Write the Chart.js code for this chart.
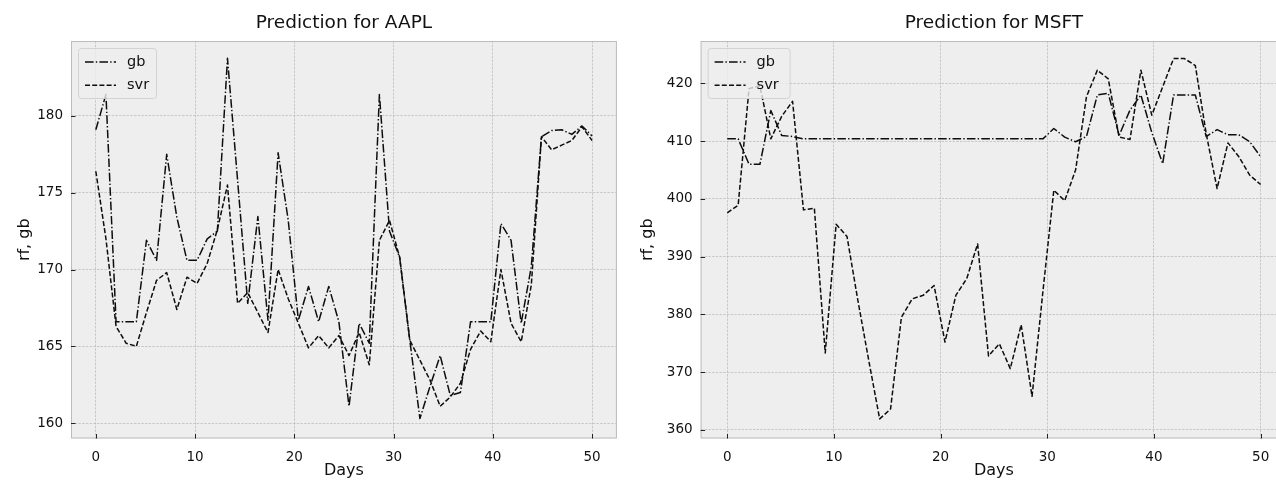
<!DOCTYPE html>
<html><head><meta charset="utf-8">
<script src="https://cdn.jsdelivr.net/npm/chart.js@4.4.1/dist/chart.umd.min.js"></script>
<style>
html,body{margin:0;padding:0;background:#fff;overflow:hidden;width:1276px;height:480px;position:relative;}
#cL{position:absolute;left:0;top:0;}
#cR{position:absolute;left:638px;top:0;}
</style></head><body>
<canvas id="cL" width="638" height="480"></canvas>
<canvas id="cR" width="700" height="480"></canvas>
<script>
// ---------------- data ----------------
const days = [0, 1.0204, 2.0408, 3.0612, 4.0816, 5.102, 6.1224, 7.1429, 8.1633, 9.1837,
  10.2041, 11.2245, 12.2449, 13.2653, 14.2857, 15.3061, 16.3265, 17.3469, 18.3673, 19.3878,
  20.4082, 21.4286, 22.449, 23.4694, 24.4898, 25.5102, 26.5306, 27.551, 28.5714, 29.5918,
  30.6122, 31.6327, 32.6531, 33.6735, 34.6939, 35.7143, 36.7347, 37.7551, 38.7755, 39.7959,
  40.8163, 41.8367, 42.8571, 43.8776, 44.898, 45.9184, 46.9388, 47.9592, 48.9796, 50];

const aaplGb = [179.1, 181.4, 166.6, 166.6, 166.6, 171.9, 170.6, 177.5, 173.4, 170.6,
  170.6, 172.0, 172.5, 183.75, 175.8, 167.8, 173.45, 166.7, 177.6, 173.2,
  166.7, 168.9, 166.6, 168.9, 166.6, 161.1, 166.5, 165.2, 181.4, 172.5,
  170.8, 165.4, 160.3, 162.4, 164.4, 161.8, 162.0, 166.6, 166.6, 166.6,
  173.0, 171.9, 166.5, 170.2, 178.65, 179.05, 179.1, 178.8, 179.35, 178.7];

const aaplSvr = [176.4, 172.0, 166.3, 165.2, 165.0, 167.2, 169.3, 169.8, 167.4, 169.5,
  169.1, 170.4, 172.6, 175.5, 167.8, 168.5, 167.2, 165.9, 170.0, 168.1,
  166.5, 164.9, 165.7, 164.9, 165.7, 164.4, 165.9, 163.8, 171.9, 173.2,
  170.8, 165.4, 164.1, 162.8, 161.1, 161.7, 162.6, 164.8, 166.0, 165.3,
  170.0, 166.5, 165.3, 169.0, 178.65, 177.8, 178.1, 178.4, 179.3, 178.4];

const msftGb = [410.4, 410.4, 406.0, 406.0, 415.3, 411.0, 410.8, 410.4, 410.4, 410.4,
  410.4, 410.4, 410.4, 410.4, 410.4, 410.4, 410.4, 410.4, 410.4, 410.4,
  410.4, 410.4, 410.4, 410.4, 410.4, 410.4, 410.4, 410.4, 410.4, 410.4,
  412.2, 410.7, 409.9, 410.8, 418.0, 418.3, 411.0, 415.4, 418.0, 411.5,
  406.1, 418.0, 418.0, 418.0, 410.8, 412.0, 411.1, 411.1, 409.9, 407.3];

const msftSvr = [397.6, 398.9, 419.1, 419.6, 410.4, 414.3, 416.9, 398.1, 398.4, 373.3,
  395.6, 393.5, 382.4, 372.0, 361.9, 363.6, 379.5, 382.7, 383.3, 385.0,
  375.2, 383.3, 386.2, 392.2, 372.8, 374.9, 370.6, 378.2, 365.8, 384.0,
  401.5, 399.7, 405.0, 417.7, 422.3, 420.8, 410.7, 410.3, 422.3, 414.5,
  419.4, 424.3, 424.3, 423.1, 411.3, 401.8, 409.7, 407.3, 404.1, 402.5];

const xTicks = [0, 10, 20, 30, 40, 50];
const aaplYTicks = [160, 165, 170, 175, 180];
const msftYTicks = [360, 370, 380, 390, 400, 410, 420];
const seriesNames = ['gb', 'svr'];
const titles = ['Prediction for AAPL', 'Prediction for MSFT'];
const xLabel = 'Days';
const yLabel = 'rf, gb';

// ---------------- styling ----------------
const FONT = '"DejaVu Sans", Verdana, sans-serif';
const TXT = '#111111';
const DASHDOT = [8.6, 2.2, 1.4, 2.2];
const DASHED = [5.0, 2.2];

const decor = {
  id: 'decor',
  beforeDraw(chart) {
    const {ctx, chartArea: a} = chart;
    ctx.save();
    ctx.fillStyle = '#eeeeee';
    ctx.fillRect(a.left, a.top, a.right - a.left, a.bottom - a.top);
    ctx.restore();
  },
  afterDatasetsDraw(chart, args, opts) {
    const {ctx, chartArea: a} = chart;
    const xs = chart.scales.x, ys = chart.scales.y;
    ctx.save();
    // frame
    ctx.strokeStyle = '#bcbcbc';
    ctx.lineWidth = 1;
    ctx.strokeRect(a.left + 0.5, a.top + 0.5, a.right - a.left - 1, a.bottom - a.top - 1);
    // inward ticks
    ctx.strokeStyle = '#222';
    ctx.lineWidth = 1;
    ctx.beginPath();
    xs.ticks.forEach(t => {
      const px = Math.round(xs.getPixelForValue(t.value)) + 0.5;
      ctx.moveTo(px, a.bottom); ctx.lineTo(px, a.bottom - 4.5);
    });
    ys.ticks.forEach(t => {
      const py = Math.round(ys.getPixelForValue(t.value)) + 0.5;
      ctx.moveTo(a.left, py); ctx.lineTo(a.left + 4.5, py);
    });
    ctx.stroke();
    // legend
    const lx = a.left + 7, ly = a.top + 7, lw = opts.legendW, lh = 50;
    ctx.fillStyle = 'rgba(238,238,238,0.8)';
    ctx.strokeStyle = 'rgba(204,204,204,0.8)';
    ctx.lineWidth = 1;
    ctx.beginPath();
    ctx.roundRect(lx + 0.5, ly + 0.5, lw, lh, 3);
    ctx.fill(); ctx.stroke();
    chart.data.datasets.forEach((ds, i) => {
      const cy = ly + 14 + i * 23.3;
      ctx.strokeStyle = ds.borderColor;
      ctx.lineWidth = ds.borderWidth;
      ctx.setLineDash(ds.borderDash);
      ctx.beginPath();
      ctx.moveTo(lx + 7, cy); ctx.lineTo(lx + 38, cy);
      ctx.stroke();
      ctx.setLineDash([]);
      ctx.fillStyle = TXT;
      ctx.font = '14.5px ' + FONT;
      ctx.textBaseline = 'middle';
      ctx.textAlign = 'left';
      ctx.fillText(ds.label, lx + 49, cy);
    });
    // title
    ctx.fillStyle = TXT;
    ctx.font = '18.5px ' + FONT;
    ctx.textAlign = 'center';
    ctx.textBaseline = 'alphabetic';
    ctx.fillText(opts.title, (a.left + a.right) / 2, 28);
    ctx.restore();
  }
};

function makeChart(id, title, gb, svr, yMin, yMax, yTicks, yWidth, padRight, yTitlePad, legendW) {
  const toPts = arr => arr.map((v, i) => ({x: days[i], y: v}));
  return new Chart(document.getElementById(id), {
    type: 'line',
    data: {
      datasets: [
        {label: seriesNames[0], data: toPts(gb), borderColor: '#0d0d0d', borderWidth: 1.5,
         borderDash: DASHDOT, borderJoinStyle: 'round', pointRadius: 0, tension: 0, fill: false},
        {label: seriesNames[1], data: toPts(svr), borderColor: '#0d0d0d', borderWidth: 1.5,
         borderDash: DASHED, borderJoinStyle: 'round', pointRadius: 0, tension: 0, fill: false}
      ]
    },
    options: {
      responsive: false,
      animation: false,
      events: [],
      layout: {padding: {top: 41, left: 0, right: padRight, bottom: 0}},
      plugins: {
        legend: {display: false},
        title: {display: false},
        tooltip: {enabled: false},
        decor: {title: title, legendW: legendW}
      },
      scales: {
        x: {
          type: 'linear', min: -2.5, max: 52.5,
          afterBuildTicks: s => { s.ticks = xTicks.map(v => ({value: v})); },
          afterFit: s => { s.height = 41.5; },
          ticks: {font: {family: FONT, size: 13.5}, color: TXT, padding: 11, maxRotation: 0, autoSkip: false,
                  callback: v => String(v)},
          grid: {color: '#b8b8b8', lineWidth: 0.7, drawTicks: false, borderDash: [2.5, 1.2]},
          border: {display: false, dash: [2.5, 1.2]},
          title: {display: true, text: xLabel, color: TXT, font: {family: FONT, size: 16}, padding: {top: 0, bottom: 0}}
        },
        y: {
          type: 'linear', min: yMin, max: yMax,
          afterBuildTicks: s => { s.ticks = yTicks.map(v => ({value: v})); },
          afterFit: s => { s.width = yWidth; },
          ticks: {font: {family: FONT, size: 13.5}, color: TXT, padding: 8, autoSkip: false,
                  callback: v => String(v)},
          grid: {color: '#b8b8b8', lineWidth: 0.7, drawTicks: false, borderDash: [2.5, 1.2]},
          border: {display: false, dash: [2.5, 1.2]},
          title: {display: true, text: yLabel, color: TXT, font: {family: FONT, size: 16}, padding: {top: yTitlePad, bottom: 0}}
        }
      }
    },
    plugins: [decor]
  });
}

makeChart('cL', titles[0], aaplGb, aaplSvr, 159.0, 184.88, aaplYTicks, 71, 21.1, 15.4, 78);
makeChart('cR', titles[1], msftGb, msftSvr, 358.5, 427.35, msftYTicks, 62.6, 50.7, 0.4, 82);
</script>
</body></html>
